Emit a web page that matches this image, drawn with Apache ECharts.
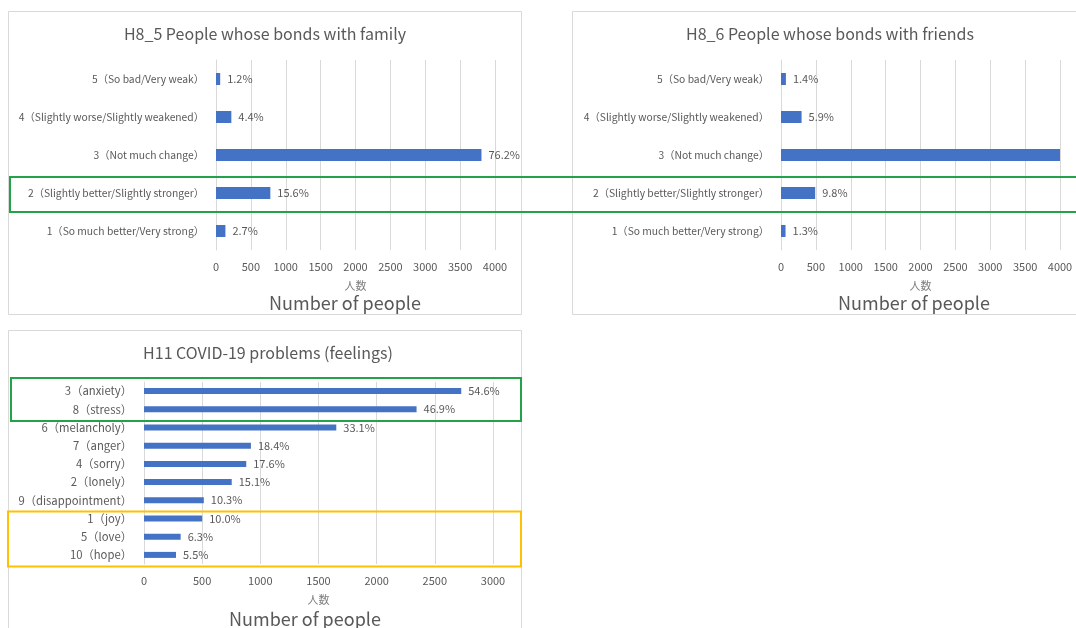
<!DOCTYPE html>
<html>
<head>
<meta charset="utf-8">
<title>Bonds and feelings survey</title>
<script src="https://cdn.jsdelivr.net/npm/echarts/dist/echarts.min.js"></script>
<style>
  html, body { margin: 0; padding: 0; background: #ffffff; }
  #chart { width: 1076px; height: 628px; }
</style>
</head>
<body>
<div id="chart"></div>
<script>
// Survey respondents (base for the percentage shares)
const respondents = 4995;

// H8_5 bonds with family, listed top to bottom
const familyCategories = [
  '5（So bad/Very weak）',
  '4（Slightly worse/Slightly weakened）',
  '3（Not much change）',
  '2（Slightly better/Slightly stronger）',
  '1（So much better/Very strong）'
];
const familyShare = [1.2, 4.4, 76.2, 15.6, 2.7];

// H8_6 bonds with friends, listed top to bottom
const friendsCategories = familyCategories.slice();
const friendsShare = [1.4, 5.9, 81.6, 9.8, 1.3];
const friendsHiddenLabel = [false, false, true, false, false];

// H11 COVID-19 problems (feelings), listed top to bottom
const feelingCategories = [
  '3（anxiety）', '8（stress）', '6（melancholy）', '7（anger）', '4（sorry）',
  '2（lonely）', '9（disappointment）', '1（joy）', '5（love）', '10（hope）'
];
const feelingShare = [54.6, 46.9, 33.1, 18.4, 17.6, 15.1, 10.3, 10.0, 6.3, 5.5];

const toCount = share => Math.round(share * respondents / 100);

const FONT = '"Noto Sans CJK JP", "Noto Sans", sans-serif';
const TEXT = '#595959';
const GRID_LINE = '#d9d9d9';
const BAR = '#4472C4';

function valueAxis(gridIndex, max) {
  return {
    type: 'value', gridIndex: gridIndex, min: 0, max: max, interval: 500,
    name: '人数', nameLocation: 'middle', nameGap: 30,
    nameTextStyle: { color: '#7f7f7f', fontSize: 11, fontFamily: FONT },
    axisLine: { show: false }, axisTick: { show: false },
    axisLabel: { color: TEXT, fontSize: 11, fontFamily: FONT, margin: 11,
      formatter: v => String(v) },
    splitLine: { lineStyle: { color: GRID_LINE, width: 1 } }
  };
}

function categoryAxis(gridIndex, cats, size) {
  return {
    type: 'category', gridIndex: gridIndex, data: cats, inverse: true,
    axisLine: { show: true, lineStyle: { color: GRID_LINE } },
    axisTick: { show: false },
    axisLabel: { color: TEXT, fontSize: size, fontFamily: FONT, margin: 12 }
  };
}

function barSeries(idx, shares, width, hidden) {
  return {
    type: 'bar', xAxisIndex: idx, yAxisIndex: idx, barWidth: width,
    itemStyle: { color: BAR },
    label: {
      show: true, position: 'right', distance: 7,
      color: TEXT, fontSize: 11, fontFamily: FONT,
      formatter: p => shares[p.dataIndex].toFixed(1) + '%'
    },
    data: shares.map((s, i) => {
      const item = { value: toCount(s) };
      if (hidden && hidden[i]) item.label = { show: false };
      return item;
    })
  };
}

function panel(x, y, w, h) {
  return { type: 'rect', shape: { x: x, y: y, width: w, height: h }, z: 0,
    style: { fill: 'none', stroke: '#d9d9d9', lineWidth: 1 } };
}
function caption(text, x, y, size) {
  return { type: 'text', x: x, y: y, z: 5,
    style: { text: text, fill: TEXT, fontSize: size, fontFamily: FONT,
      textAlign: 'center', textVerticalAlign: 'middle' } };
}
function highlight(x, y, w, h, color) {
  return { type: 'rect', shape: { x: x, y: y, width: w, height: h }, z: 100,
    style: { fill: 'none', stroke: color, lineWidth: 2 } };
}

const chart = echarts.init(document.getElementById('chart'), null, { renderer: 'canvas' });
chart.setOption({
  backgroundColor: '#ffffff',
  animation: false,
  grid: [
    { left: 216, top: 60, width: 279, height: 190, outerBoundsMode: 'none' },
    { left: 781, top: 60, width: 279, height: 190, outerBoundsMode: 'none' },
    { left: 144, top: 382, width: 349, height: 182, outerBoundsMode: 'none' }
  ],
  xAxis: [valueAxis(0, 4000), valueAxis(1, 4000), valueAxis(2, 3000)],
  yAxis: [
    categoryAxis(0, familyCategories, 10.3),
    categoryAxis(1, friendsCategories, 10.3),
    categoryAxis(2, feelingCategories, 11.3)
  ],
  series: [
    barSeries(0, familyShare, 12),
    barSeries(1, friendsShare, 12, friendsHiddenLabel),
    barSeries(2, feelingShare, 6)
  ],
  graphic: [
    panel(8.5, 11.5, 513, 303),
    panel(572.5, 11.5, 520, 303),
    panel(8.5, 330.5, 513, 310),
    caption('H8_5 People whose bonds with family', 265, 34, 16),
    caption('H8_6 People whose bonds with friends', 830, 34, 16),
    caption('H11 COVID-19 problems (feelings)', 268, 353, 16),
    caption('Number of people', 345, 303, 18),
    caption('Number of people', 914, 303, 18),
    caption('Number of people', 305, 619, 18),
    highlight(10, 177, 1080, 35, '#22a34a'),
    highlight(11, 378, 510, 43, '#22a34a'),
    highlight(8, 511.5, 513, 55, '#ffc000')
  ]
});
</script>
</body>
</html>
